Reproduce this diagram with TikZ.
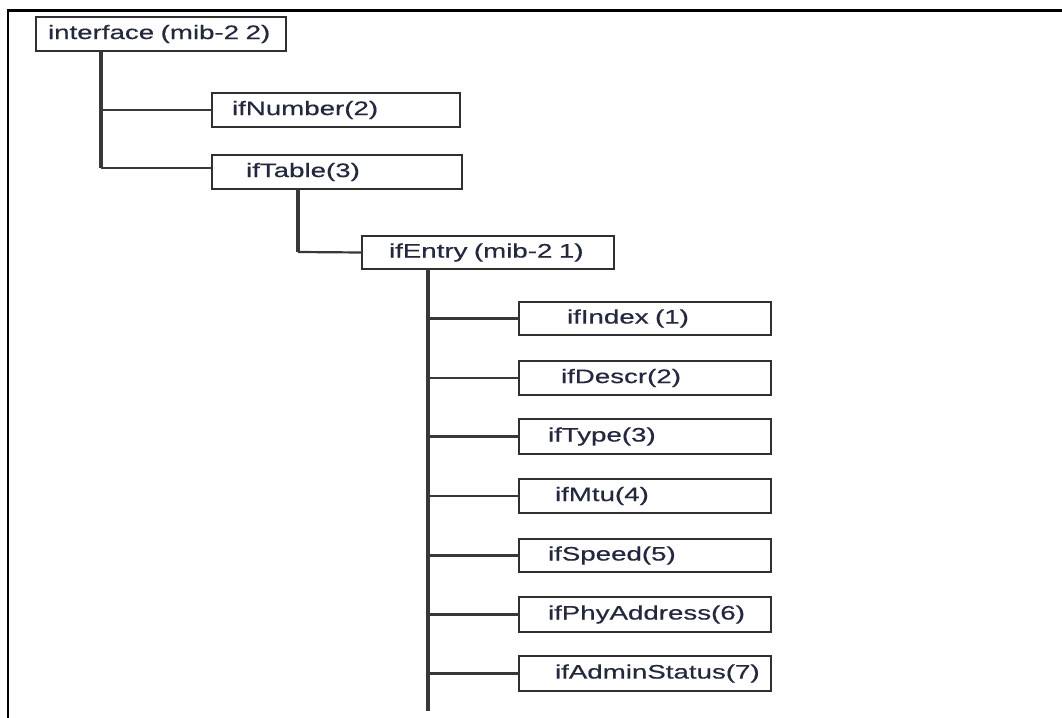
\documentclass[tikz,border=0pt]{standalone}
\usepackage{fontspec}
\setmainfont{Liberation Sans}[FakeStretch=1.42, FakeBold=0.5]
\begin{document}
\begin{tikzpicture}[x=0.5pt, y=-0.5pt,
  mibbox/.style args={#1/#2/#3}{draw=boxgray, line width=1.3pt, rectangle,
    anchor=north west, inner sep=0pt, outer sep=0pt,
    minimum width=#1*0.5pt, text width=#1*0.5pt, minimum height=#2*0.5pt,
    align=left, text=labelink, font=\fontsize{9.75pt}{11pt}\selectfont,
    execute at begin node={\hspace*{\dimexpr #3pt/2\relax}}},
  trunk/.style={draw=linegray, line width=1.6pt},
  branch/.style={draw=linegray, line width=1.1pt},
  frame/.style={draw=black, line width=1.3pt}]
\definecolor{boxgray}{HTML}{303030}
\definecolor{linegray}{HTML}{383838}
\definecolor{labelink}{HTML}{23283E}

\useasboundingbox (0,0) rectangle (1062,718);

% outer frame: top and left edges only
\coordinate (fTL) at (8,10.5);
\coordinate (fTR) at (1062,10.5);
\coordinate (fBL) at (8,718);
\draw[frame] (fTR) -- (fTL) -- (fBL);

% upper levels
\node[mibbox=250/34/12] (iface) at (36,17) {interface (mib-2 2)};
\node[mibbox=248/34/20] (ifNumber) at (212,93) {ifNumber(2)};
\node[mibbox=250/34/34] (ifTable) at (212,155) {ifTable(3)};
\node[mibbox=252/33/27] (ifEntry) at (362,236) {ifEntry (mib-2 1)};

% entry columns
\node[mibbox=252/33/48] (ifIndex) at (519,302) {ifIndex (1)};
\node[mibbox=252/34/42] (ifDescr) at (519,361) {ifDescr(2)};
\node[mibbox=252/35/29] (ifType) at (519,419) {ifType(3)};
\node[mibbox=252/34/36] (ifMtu) at (519,479) {ifMtu(4)};
\node[mibbox=252/33/29] (ifSpeed) at (519,539) {ifSpeed(5)};
\node[mibbox=252/35/29] (ifPhy) at (519,597) {ifPhyAddress(6)};
\node[mibbox=252/35/36] (ifAdmin) at (519,656) {ifAdminStatus(7)};

% interface trunk
\coordinate (t1) at (101,168);
\draw[trunk] (iface.south -| t1) -- (t1);
\draw[branch] (t1) -- (t1 -| ifTable.west);
\draw[branch] (t1 |- ifNumber.west) -- (ifNumber.west);

% ifTable to ifEntry
\coordinate (t2) at (298,252);
\draw[trunk] (ifTable.south -| t2) -- (t2);
\draw[branch] (t2) -- (ifEntry.west);

% ifEntry trunk and its columns
\coordinate (t3) at (428,711);
\draw[trunk] (ifEntry.south -| t3) -- (t3);
\foreach \c in {ifIndex, ifDescr, ifType, ifMtu, ifSpeed, ifPhy, ifAdmin}
  \draw[branch] (t3 |- \c.west) -- (\c.west);
\end{tikzpicture}
\end{document}
